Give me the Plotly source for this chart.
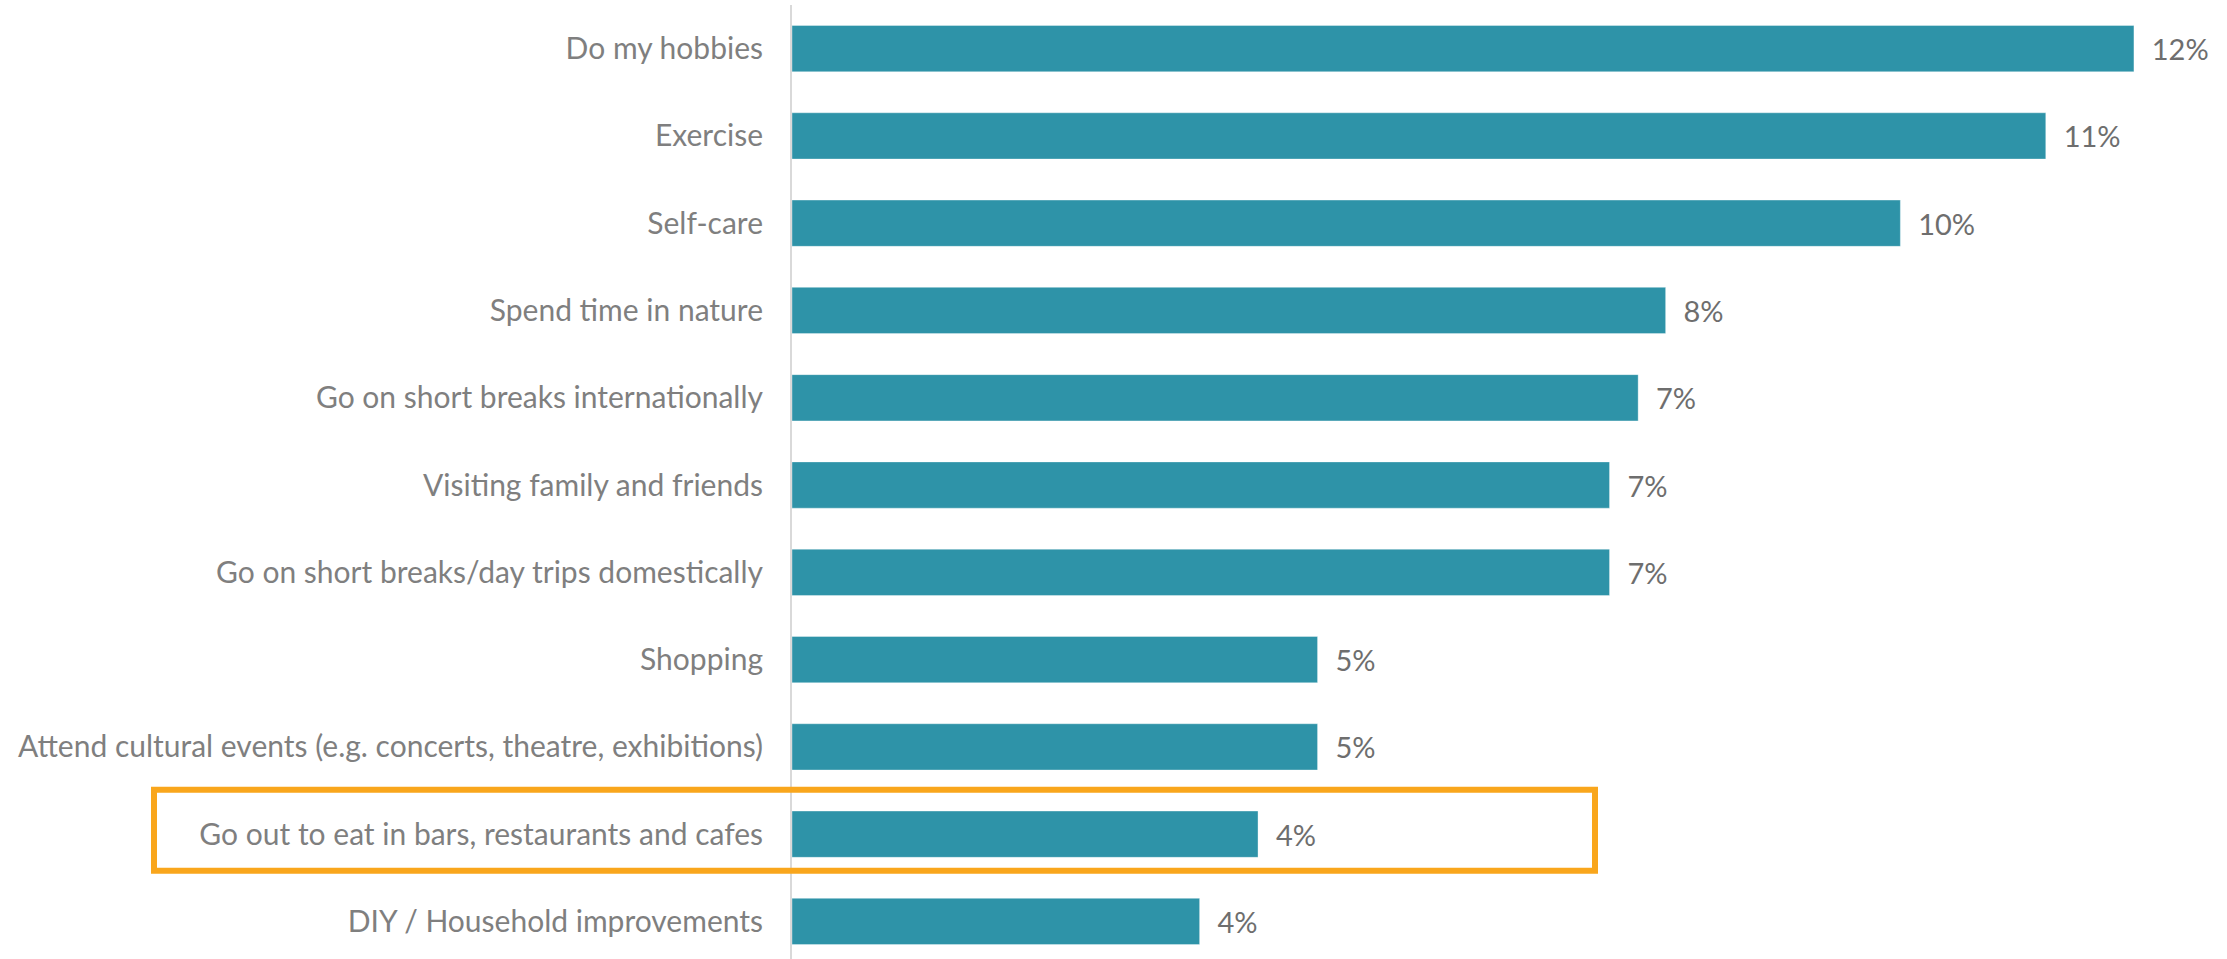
import plotly.graph_objects as go

# Share of respondents choosing each activity (%), top to bottom
activities = [
    "Do my hobbies",
    "Exercise",
    "Self-care",
    "Spend time in nature",
    "Go on short breaks internationally",
    "Visiting family and friends",
    "Go on short breaks/day trips domestically",
    "Shopping",
    "Attend cultural events (e.g. concerts, theatre, exhibitions)",
    "Go out to eat in bars, restaurants and cafes",
    "DIY / Household improvements",
]
share_pct = [11.72, 10.95, 9.68, 7.63, 7.39, 7.14, 7.14, 4.59, 4.59, 4.07, 3.56]

highlighted = "Go out to eat in bars, restaurants and cafes"

BAR_COLOR = "#2E93A8"
HIGHLIGHT_COLOR = "#F9A61C"
LABEL_GRAY = "#7F7F7F"
VALUE_GRAY = "#6E6E6E"
FONT = "Lato, 'Liberation Sans', sans-serif"

W, H = 2227, 959
M_L, M_R, M_T, M_B = 792, 35, 5, 0
plot_w = W - M_L - M_R
px_per_pct = 114.5

fig = go.Figure(
    go.Bar(
        x=share_pct,
        y=activities,
        orientation="h",
        marker=dict(color=BAR_COLOR, line=dict(color="rgba(255,255,255,0.35)", width=1)),
        texttemplate="\u00a0\u00a0%{x:.0f}%",
        textposition="outside",
        textfont=dict(family=FONT, size=29, color=VALUE_GRAY),
        cliponaxis=False,
        hoverinfo="skip",
    )
)

# Outline around the highlighted row, spanning label and bar
hi = activities.index(highlighted)
fig.add_shape(
    type="rect",
    xref="paper",
    yref="y",
    x0=(154 - M_L) / plot_w,
    x1=(1595 - M_L) / plot_w,
    y0=hi - 0.51,
    y1=hi + 0.42,
    line=dict(color=HIGHLIGHT_COLOR, width=6),
    fillcolor="rgba(0,0,0,0)",
    layer="above",
)

fig.update_layout(
    width=W,
    height=H,
    margin=dict(l=M_L, r=M_R, t=M_T, b=M_B, autoexpand=False),
    paper_bgcolor="white",
    plot_bgcolor="white",
    bargap=0.47,
    showlegend=False,
    xaxis=dict(
        range=[0, plot_w / px_per_pct],
        visible=False,
        showgrid=False,
        zeroline=False,
    ),
    yaxis=dict(
        type="category",
        categoryorder="array",
        categoryarray=activities,
        range=[10.43, -0.5],
        showline=True,
        linecolor="#D9D9D9",
        linewidth=2,
        showgrid=False,
        zeroline=False,
        ticks="",
        ticklabelstandoff=21,
        tickfont=dict(family=FONT, size=30, color=LABEL_GRAY),
    ),
)

fig.write_html("out.html")
